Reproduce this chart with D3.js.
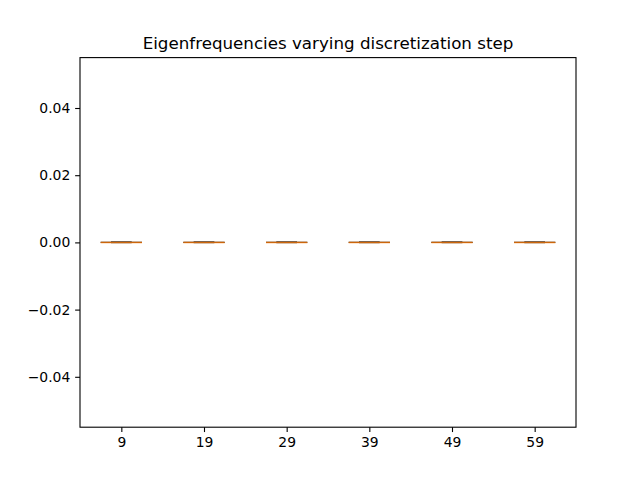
<!DOCTYPE html>
<html><head><meta charset="utf-8">
<script src="https://cdn.jsdelivr.net/npm/d3@7"></script>
<style>body{margin:0;background:#fff}svg{display:block}text{font-family:"DejaVu Sans",sans-serif;}</style>
</head><body>
<svg id="c" width="640" height="480"></svg>
<script>
const categories = ["9","19","29","39","49","59"];
const q1 = [0,0,0,0,0,0];
const medians = [0,0,0,0,0,0];
const q3 = [0,0,0,0,0,0];
const whiskLo = [0,0,0,0,0,0];
const whiskHi = [0,0,0,0,0,0];
const yTicks = [-0.04,-0.02,0.00,0.02,0.04];

const svg = d3.select("#c");
const L=80,R=576,T=57.6,B=427.2;
const x = d3.scaleLinear().domain([0.5,6.5]).range([L,R]);
const y = d3.scaleLinear().domain([-0.055,0.055]).range([B,T]);
const bw = x(1.25)-x(1);

svg.append("text").attr("x",(L+R)/2).attr("y",T-8.3).attr("text-anchor","middle")
  .attr("font-size",16.7).attr("fill","#000").text("Eigenfrequencies varying discretization step");

const xAxis = d3.axisBottom(x).tickValues(categories.map((d,i)=>i+1))
  .tickFormat((d,i)=>categories[i]).tickSize(4.86).tickPadding(4.86).tickSizeOuter(0);
const gx = svg.append("g").attr("transform",`translate(0,${B})`).call(xAxis);
const yAxis = d3.axisLeft(y).tickValues(yTicks).tickFormat(d=>d3.format(".2f")(d).replace("-","\u2212"))
  .tickSize(4.86).tickPadding(4.86).tickSizeOuter(0);
const gy = svg.append("g").attr("transform",`translate(${L},0)`).call(yAxis);
[gx,gy].forEach(g=>{
  g.select(".domain").remove();
  g.selectAll("text").attr("font-size",13.9).attr("fill","#000").attr("font-family","DejaVu Sans");
  g.selectAll("line").attr("stroke","#000").attr("stroke-width",1.1);
});

const boxes = svg.append("g");
categories.forEach((c,i)=>{
  const cx = x(i+1);
  const g = boxes.append("g");
  g.append("line").attr("x1",cx).attr("x2",cx).attr("y1",y(q1[i])).attr("y2",y(whiskLo[i])).attr("stroke","#000").attr("stroke-width",1.39);
  g.append("line").attr("x1",cx).attr("x2",cx).attr("y1",y(q3[i])).attr("y2",y(whiskHi[i])).attr("stroke","#000").attr("stroke-width",1.39);
  g.append("line").attr("x1",cx-bw/2).attr("x2",cx+bw/2).attr("y1",y(whiskLo[i])).attr("y2",y(whiskLo[i])).attr("stroke","#000").attr("stroke-width",1.39);
  g.append("line").attr("x1",cx-bw/2).attr("x2",cx+bw/2).attr("y1",y(whiskHi[i])).attr("y2",y(whiskHi[i])).attr("stroke","#000").attr("stroke-width",1.39);
  g.append("line").attr("x1",cx-bw).attr("x2",cx+bw).attr("y1",y(q3[i])).attr("y2",y(q1[i]))
    .attr("stroke","#000").attr("stroke-width",1.39);
  g.append("line").attr("x1",cx-bw).attr("x2",cx+bw).attr("y1",y(medians[i])).attr("y2",y(medians[i]))
    .attr("stroke","#ff7f0e").attr("stroke-width",1.5).attr("stroke-opacity",0.8);
});

svg.append("rect").attr("x",L).attr("y",T).attr("width",R-L).attr("height",B-T)
  .attr("fill","none").attr("stroke","#000").attr("stroke-width",1.1);
</script>
</body></html>
